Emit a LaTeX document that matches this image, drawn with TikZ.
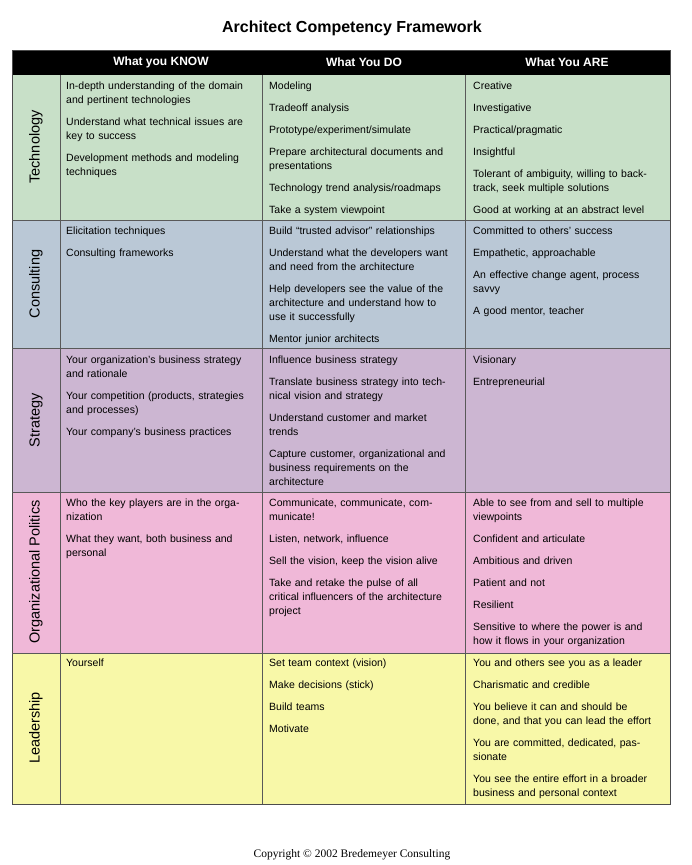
\documentclass[tikz,border=0pt]{standalone}
\usepackage{fontspec}
\setmainfont{Liberation Sans}
\newfontfamily\serifcopy{Liberation Serif}
\definecolor{techgreen}{RGB}{200,224,200}
\definecolor{consgrey}{RGB}{186,200,214}
\definecolor{stratpurple}{RGB}{204,182,210}
\definecolor{polpink}{RGB}{240,184,216}
\definecolor{leadyellow}{RGB}{248,248,168}
\tikzset{
  cell/.style={anchor=north west, inner sep=0pt, text width=196pt, align=left,
    font=\fontsize{10.5}{14}\selectfont},
  rowlabel/.style={rotate=90, font=\fontsize{14.5}{16}\selectfont},
  colhead/.style={text=white, font=\bfseries\fontsize{12}{14}\selectfont},
}
\newcommand{\gap}{\\[8pt]}
\begin{document}
\begin{tikzpicture}[x=1pt,y=-1pt]
			\useasboundingbox (0,0) rectangle (691,865);
			\fill[white] (0,0) rectangle (691,865);
			% title and header
			\node (title) at (352,28) {\bfseries\fontsize{16}{18}\selectfont Architect Competency Framework};
			\fill[black] (12,50) rectangle (670,75);
			\node[colhead] (h1) at (161,62) {What you KNOW};
			\node[colhead] (h2) at (364,62) {What You DO};
			\node[colhead] (h3) at (567,62) {What You ARE};
			% row backgrounds
			\fill[techgreen] (12,75) rectangle (670,220);
			\fill[consgrey] (12,220) rectangle (670,348);
			\fill[stratpurple] (12,348) rectangle (670,492);
			\fill[polpink] (12,492) rectangle (670,653);
			\fill[leadyellow] (12,653) rectangle (670,804);
			% grid
			\draw[black!70, thick] (12,50) rectangle (670,804);
			\foreach \y in {220,348,492,653} \draw[black!65] (12,\y) -- (670,\y);
			\foreach \x in {60,262,465} \draw[black!65] (\x,75) -- (\x,804);
			% row labels
			\node[rowlabel] (r1) at (36,147) {Technology};
			\node[rowlabel] (r2) at (36,284) {Consulting};
			\node[rowlabel] (r3) at (36,420) {Strategy};
			\node[rowlabel] (r4) at (36,572) {Organizational Politics};
			\node[rowlabel] (r5) at (36,728) {Leadership};
			% technology
			\node[cell] (t1) at (66,82) {In-depth understanding of the domain\\ and pertinent technologies\gap Understand what technical issues are\\ key to success\gap Development methods and modeling\\ techniques};
			\node[cell] (t2) at (269,82) {Modeling\gap Tradeoff analysis\gap Prototype/experiment/simulate\gap Prepare architectural documents and\\ presentations\gap Technology trend analysis/roadmaps\gap Take a system viewpoint};
			\node[cell] (t3) at (473,82) {Creative\gap Investigative\gap Practical/pragmatic\gap Insightful\gap Tolerant of ambiguity, willing to back-\\ track, seek multiple solutions\gap Good at working at an abstract level};
			% consulting
			\node[cell] (c1) at (66,227) {Elicitation techniques\gap Consulting frameworks};
			\node[cell] (c2) at (269,227) {Build ``trusted advisor'' relationships\gap Understand what the developers want\\ and need from the architecture\gap Help developers see the value of the\\ architecture and understand how to\\ use it successfully\gap Mentor junior architects};
			\node[cell] (c3) at (473,227) {Committed to others' success\gap Empathetic, approachable\gap An effective change agent, process\\ savvy\gap A good mentor, teacher};
			% strategy
			\node[cell] (s1) at (66,356) {Your organization's business strategy\\ and rationale\gap Your competition (products, strategies\\ and processes)\gap Your company's business practices};
			\node[cell] (s2) at (269,356) {Influence business strategy\gap Translate business strategy into tech-\\ nical vision and strategy\gap Understand customer and market\\ trends\gap Capture customer, organizational and\\ business requirements on the\\ architecture};
			\node[cell] (s3) at (473,356) {Visionary\gap Entrepreneurial};
			% organizational politics
			\node[cell] (p1) at (66,499) {Who the key players are in the orga-\\ nization\gap What they want, both business and\\ personal};
			\node[cell] (p2) at (269,499) {Communicate, communicate, com-\\ municate!\gap Listen, network, influence\gap Sell the vision, keep the vision alive\gap Take and retake the pulse of all\\ critical influencers of the architecture\\ project};
			\node[cell] (p3) at (473,499) {Able to see from and sell to multiple\\ viewpoints\gap Confident and articulate\gap Ambitious and driven\gap Patient and not\gap Resilient\gap Sensitive to where the power is and\\ how it flows in your organization};
			% leadership
			\node[cell] (l1) at (66,659) {Yourself};
			\node[cell] (l2) at (269,659) {Set team context (vision)\gap Make decisions (stick)\gap Build teams\gap Motivate};
			\node[cell] (l3) at (473,659) {You and others see you as a leader\gap Charismatic and credible\gap You believe it can and should be\\ done, and that you can lead the effort\gap You are committed, dedicated, pas-\\ sionate\gap You see the entire effort in a broader\\ business and personal context};
			% footer
			\node (copy) at (352,855) {\serifcopy\fontsize{11.5}{13}\selectfont Copyright \textcopyright{} 2002 Bredemeyer Consulting};
		\end{tikzpicture}
\end{document}
